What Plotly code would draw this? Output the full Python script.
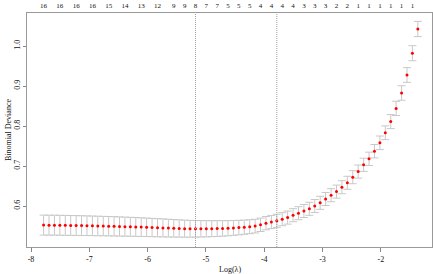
import plotly.graph_objects as go

# log(lambda) for each fitted lambda (largest lambda first)
log_lambda = [-1.365, -1.458, -1.551, -1.644, -1.737, -1.830, -1.923, -2.016, -2.109, -2.202,
              -2.295, -2.388, -2.481, -2.574, -2.667, -2.760, -2.853, -2.947, -3.040, -3.133,
              -3.226, -3.319, -3.412, -3.505, -3.598, -3.691, -3.784, -3.877, -3.970, -4.063,
              -4.156, -4.249, -4.342, -4.435, -4.528, -4.621, -4.714, -4.807, -4.900, -4.993,
              -5.086, -5.179, -5.272, -5.365, -5.458, -5.551, -5.644, -5.737, -5.830, -5.923,
              -6.017, -6.110, -6.203, -6.296, -6.389, -6.482, -6.575, -6.668, -6.761, -6.854,
              -6.947, -7.040, -7.133, -7.226, -7.319, -7.412, -7.505, -7.598, -7.691, -7.784]

# mean cross-validated binomial deviance
cvm = [1.0425, 0.982, 0.9275, 0.8825, 0.844, 0.811, 0.783, 0.758, 0.737, 0.718,
       0.703, 0.686, 0.672, 0.658, 0.647, 0.636, 0.627, 0.6175, 0.608, 0.600,
       0.593, 0.5875, 0.582, 0.577, 0.571, 0.567, 0.563, 0.560, 0.557, 0.553,
       0.5497, 0.5482, 0.547, 0.546, 0.5452, 0.5445, 0.544, 0.5436, 0.5433, 0.5431,
       0.543, 0.5429, 0.5431, 0.5434, 0.5438, 0.5442, 0.5447, 0.5452, 0.5457, 0.5462,
       0.5467, 0.5472, 0.5476, 0.548, 0.5484, 0.5488, 0.5492, 0.5495, 0.5498, 0.5501,
       0.5504, 0.5507, 0.551, 0.5512, 0.5514, 0.5516, 0.5518, 0.552, 0.5521, 0.5522]

# cross-validation standard error
cvsd = [0.019, 0.0188, 0.0184, 0.0181, 0.0178, 0.0175, 0.0172, 0.017, 0.0168, 0.0166,
        0.0165, 0.0164, 0.0163, 0.0163, 0.0163, 0.0163, 0.0163, 0.0163, 0.0163, 0.0163,
        0.0163, 0.0163, 0.0163, 0.0163, 0.0163, 0.0163, 0.0164, 0.0165, 0.0166, 0.0168,
        0.0171, 0.0174, 0.0178, 0.0182, 0.0186, 0.019, 0.0194, 0.0197, 0.02, 0.0203,
        0.0205, 0.0207, 0.021, 0.0213, 0.0216, 0.0219, 0.0222, 0.0225, 0.0227, 0.0229,
        0.0231, 0.0233, 0.0235, 0.0237, 0.0238, 0.024, 0.0241, 0.0242, 0.0243, 0.0244,
        0.0245, 0.0246, 0.0247, 0.0248, 0.0248, 0.0249, 0.0249, 0.025, 0.025, 0.025]

# number of non-zero coefficients shown on the top axis (index into log_lambda)
top_index = [69, 66, 63, 60, 57, 54, 51, 48, 45, 43, 41, 39, 37, 35, 33, 31, 29, 27, 25, 23,
             21, 19, 17, 15, 13, 11, 9, 7, 5, 3, 1]
top_labels = ["16", "16", "16", "16", "15", "14", "13", "12", "9", "9", "8", "7", "7", "5", "5",
              "5", "4", "4", "4", "4", "3", "3", "3", "2", "2", "1", "1", "1", "1", "1", "1"]

idx_min = 41
idx_1se = 26

x_ticks = [-8, -7, -6, -5, -4, -3, -2]
y_ticks = [0.6, 0.7, 0.8, 0.9, 1.0]

FONT = "Liberation Serif"
TXT = "#111111"

fig = go.Figure()
fig.add_trace(go.Scatter(
    x=log_lambda, y=cvm, mode="markers",
    marker=dict(color="red", size=3, line=dict(width=0)),
    error_y=dict(type="data", array=cvsd, visible=True, color="#C8C8C8", thickness=1, width=4),
    showlegend=False, hoverinfo="skip",
))
# invisible trace to activate the top axis
fig.add_trace(go.Scatter(x=[log_lambda[0]], y=[cvm[0]], xaxis="x2", mode="markers",
                         marker=dict(opacity=0), showlegend=False, hoverinfo="skip"))

for i in (idx_min, idx_1se):
    fig.add_shape(type="line", xref="x", yref="paper", x0=log_lambda[i], x1=log_lambda[i],
                  y0=0, y1=1, line=dict(color="#A0A0A0", width=1, dash="1px,1px"))

fig.add_annotation(text="Log(λ)", xref="paper", yref="paper", x=0.5, y=0, yshift=-16,
                   yanchor="top", showarrow=False, font=dict(family=FONT, size=8, color=TXT))
fig.add_annotation(text="Binomial Deviance", xref="paper", yref="paper", x=0, xshift=-19,
                   y=0.5, xanchor="center", textangle=-90, showarrow=False,
                   font=dict(family=FONT, size=8, color=TXT))

fig.update_layout(
    template="none",
    width=433, height=274,
    margin=dict(l=27, r=1, t=13, b=27, autoexpand=False),
    paper_bgcolor="white", plot_bgcolor="white",
    font=dict(family=FONT, size=8, color=TXT),
    xaxis=dict(range=[-8.0686, -1.122], tickvals=x_ticks, ticktext=[str(v) for v in x_ticks],
               ticks="outside", ticklen=4, tickcolor="#888", tickwidth=1,
               showline=True, linecolor="#999", linewidth=1, mirror=True,
               showgrid=False, zeroline=False, automargin=False,
               tickfont=dict(family=FONT, size=8, color=TXT)),
    xaxis2=dict(overlaying="x", side="top", range=[-8.0686, -1.122],
                tickvals=[log_lambda[i] for i in top_index], ticktext=top_labels,
                ticks="", showgrid=False, zeroline=False, showline=False, automargin=False,
                ticklabelstandoff=3,
                tickfont=dict(family=FONT, size=7, color=TXT)),
    yaxis=dict(range=[0.4975, 1.0825], tickvals=y_ticks, ticktext=[f"{v:.1f}" for v in y_ticks],
               ticks="outside", ticklen=3, tickcolor="#888", tickwidth=1, tickangle=-90,
               showline=True, linecolor="#999", linewidth=1, mirror=True,
               showgrid=False, zeroline=False, automargin=False,
               tickfont=dict(family=FONT, size=8, color=TXT)),
)

fig.write_html("out.html", config={"displayModeBar": False, "staticPlot": True},
               post_script="document.body.style.margin='0';document.body.style.overflow='hidden';")
